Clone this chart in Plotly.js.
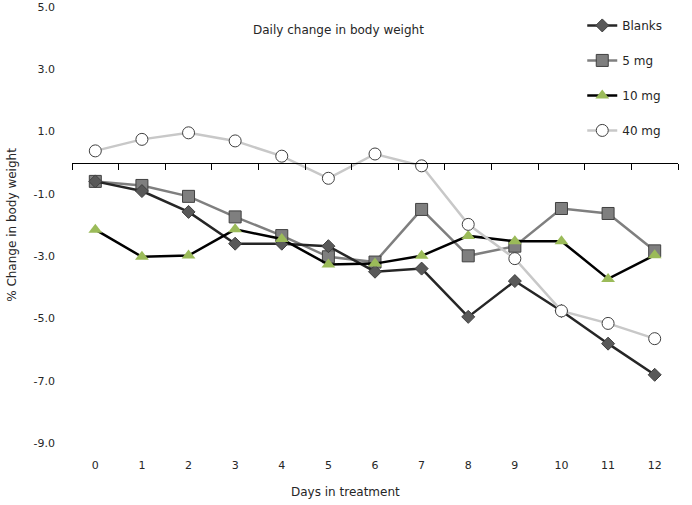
<!DOCTYPE html>
<html>
<head>
<meta charset="utf-8">
<script src="https://cdn.plot.ly/plotly-3.0.1.min.js"></script>
<style>
  html, body { margin: 0; padding: 0; background: #fff; }
  #myDiv { width: 692px; height: 505px; }
</style>
</head>
<body>
<div id="myDiv"></div>
<script>
// days in treatment
let days = [0, 1, 2, 3, 4, 5, 6, 7, 8, 9, 10, 11, 12];

// % change in body weight
let blanks = [-0.60, -0.91, -1.58, -2.60, -2.60, -2.68, -3.50, -3.40, -4.95, -3.80, -4.76, -5.81, -6.81];
let mg5    = [-0.60, -0.73, -1.08, -1.74, -2.34, -3.02, -3.19, -1.50, -2.99, -2.68, -1.47, -1.63, -2.83];
let mg10   = [-2.15, -3.02, -2.98, -2.14, -2.45, -3.27, -3.24, -2.99, -2.35, -2.52, -2.52, -3.73, -2.97];
let mg40   = [0.38, 0.75, 0.96, 0.70, 0.21, -0.50, 0.28, -0.10, -1.98, -3.08, -4.76, -5.16, -5.65];

let yTicks = [5, 3, 1, -1, -3, -5, -7, -9];

let fontFam = "DejaVu Sans, Verdana, sans-serif";

function serie(nome, valores, corLinha, simbolo, corMarcador, tam, ordem) {
  return {
    x: days,
    y: valores,
    name: nome,
    type: 'scatter',
    mode: 'lines+markers',
    legendgroup: 'g' + ordem,
    legendrank: ordem,
    line: { color: corLinha, width: 2.5 },
    marker: { symbol: simbolo, size: tam, color: corMarcador, line: { color: '#404040', width: 1 } },
    hoverinfo: 'x+y+name'
  };
}

let t40 = serie('40 mg', mg40, '#c8c8c8', 'circle', '#ffffff', 12, 4);
t40.xaxis = 'x2';
let t5 = serie('5 mg', mg5, '#7f7f7f', 'square', '#7f7f7f', 12, 2);
let tB = serie('Blanks', blanks, '#262626', 'diamond', '#595959', 10, 1);
let t10 = serie('10 mg', mg10, '#000000', 'triangle-up', '#9bbb59', 12, 3);
t10.marker.line.width = 0;

let data = [t40, t5, tB, t10];

// boundaries between day categories for the tick marks on the zero line
let boundaries = days.map(d => d - 0.5).concat([days[days.length - 1] + 0.5]);

let layout = {
  width: 692,
  height: 505,
  margin: { l: 72, r: 14, t: 7, b: 62 },
  paper_bgcolor: '#ffffff',
  plot_bgcolor: '#ffffff',
  font: { family: fontFam, size: 11, color: '#262626' },
  showlegend: true,
  legend: {
    x: 0.842, y: 0.991, xanchor: 'left', yanchor: 'top',
    traceorder: 'grouped',
    tracegroupgap: 16,
    itemwidth: 30,
    font: { family: fontFam, size: 12, color: '#262626' },
    bgcolor: 'rgba(0,0,0,0)'
  },
  xaxis: {
    range: [-0.5, 12.5],
    tickvals: days,
    ticktext: days.map(String),
    ticks: '',
    showline: false,
    showgrid: false,
    zeroline: false,
    ticklabelstandoff: 14
  },
  xaxis2: {
    overlaying: 'x',
    anchor: 'free',
    position: 9 / 14,
    range: [-0.5, 12.5],
    tickvals: boundaries,
    ticks: 'outside',
    ticklen: 6,
    tickcolor: '#000000',
    showticklabels: false,
    showline: true,
    linecolor: '#000000',
    linewidth: 1,
    showgrid: false,
    zeroline: false
  },
  yaxis: {
    range: [-9, 5],
    tickvals: yTicks,
    ticktext: yTicks.map(v => v.toFixed(1)),
    ticks: '',
    showline: false,
    showgrid: false,
    zeroline: false,
    ticklabelstandoff: 16,
    title: { text: '% Change in body weight', font: { family: fontFam, size: 12, color: '#262626' }, standoff: 14 }
  },
  annotations: [
    {
      text: 'Daily change in body weight',
      xref: 'paper', yref: 'paper', x: 0.44, y: 0.947,
      yanchor: 'middle',
      showarrow: false, font: { family: fontFam, size: 12, color: '#262626' }
    },
    {
      text: 'Days in treatment',
      xref: 'paper', yref: 'paper', x: 0.452, y: -0.112,
      yanchor: 'middle',
      showarrow: false, font: { family: fontFam, size: 12, color: '#262626' }
    }
  ]
};

Plotly.newPlot('myDiv', data, layout, { displayModeBar: false, staticPlot: true });
</script>
</body>
</html>
